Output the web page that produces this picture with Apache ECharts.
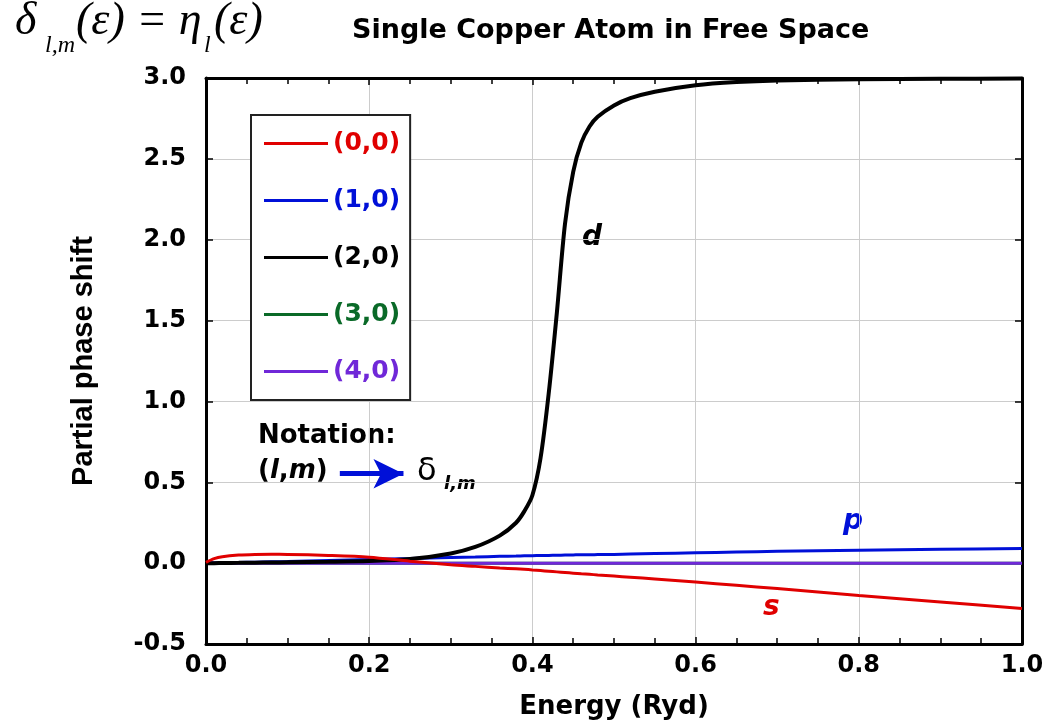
<!DOCTYPE html>
<html>
<head>
<meta charset="utf-8">
<script src="https://cdn.jsdelivr.net/npm/echarts@6/dist/echarts.min.js"></script>
<style>
  html, body { margin: 0; padding: 0; background: #fff; }
  #chart { width: 1048px; height: 727px; }
</style>
</head>
<body>
<div id="chart"></div>
<script>
// energy grid (Ryd), shared by every curve
const energy = [0, 0.01, 0.02, 0.04, 0.06, 0.08, 0.1, 0.15, 0.2, 0.25, 0.3, 0.33, 0.36, 0.38, 0.39, 0.4,
  0.41, 0.42, 0.43, 0.44, 0.45, 0.46, 0.47, 0.48, 0.5, 0.52, 0.55, 0.6, 0.65, 0.7, 0.8, 0.9, 1.0];

// partial phase shifts
const shiftS = [0.005, 0.028, 0.04, 0.05, 0.054, 0.055, 0.054, 0.048, 0.037, 0.012, -0.01, -0.02, -0.03, -0.035, -0.038, -0.042,
  -0.046, -0.05, -0.054, -0.058, -0.062, -0.066, -0.069, -0.073, -0.08, -0.087, -0.098, -0.117, -0.137, -0.157, -0.2, -0.24, -0.28];
const shiftP = [0, 0.001, 0.002, 0.004, 0.006, 0.008, 0.01, 0.016, 0.022, 0.028, 0.035, 0.038, 0.042, 0.044, 0.045, 0.046,
  0.047, 0.048, 0.049, 0.05, 0.051, 0.052, 0.052, 0.053, 0.054, 0.056, 0.059, 0.064, 0.069, 0.073, 0.08, 0.086, 0.09];
const shiftD = [0, 0, 0.001, 0.002, 0.003, 0.004, 0.005, 0.008, 0.013, 0.025, 0.06, 0.1, 0.17, 0.25, 0.32, 0.42,
  0.65, 1.05, 1.55, 2.1, 2.42, 2.6, 2.7, 2.76, 2.83, 2.875, 2.915, 2.955, 2.975, 2.985, 2.992, 2.995, 2.997];
const shiftF = [0, 0, 0, 0, 0, 0, 0, 0, 0, 0, 0, 0, 0, 0, 0, 0,
  0, 0, 0, 0, 0, 0, 0, 0, 0, 0, 0, 0, 0, 0, 0, 0, 0];
const shiftG = [0, 0, 0, 0, 0, 0, 0, 0, 0, 0, 0, 0, 0, 0, 0, 0,
  0, 0, 0, 0, 0, 0, 0, 0, 0, 0, 0, 0, 0, 0, 0, 0, 0];

const legendNames = ['(0,0)', '(1,0)', '(2,0)', '(3,0)', '(4,0)'];
const colors = ['#e00000', '#0010d8', '#000000', '#0a6a28', '#7028d8'];
const xTicks = { min: 0, max: 1, step: 0.2 };
const yTicks = { min: -0.5, max: 3, step: 0.5 };

// notation arrow, in data units
const arrowFrom = [0.164, 0.553];
const arrowTo = [0.242, 0.553];

const pairs = ys => energy.map((x, i) => [x, ys[i]]);

const chart = echarts.init(document.getElementById('chart'));
const FONT = 'DejaVu Sans';
const SERIF = '"Liberation Serif"';

function curve(idx, ys, width, extra) {
  return Object.assign({
    name: legendNames[idx],
    type: 'line',
    data: pairs(ys),
    showSymbol: false,
    smooth: 0.3,
    color: colors[idx],
    lineStyle: { color: colors[idx], width: width },
    z: 3,
  }, extra || {});
}

// frame axes: top and right copies carry only line and ticks
function frameX(position, main) {
  return {
    type: 'value', position: position,
    min: xTicks.min, max: xTicks.max, interval: xTicks.step,
    axisLine: { onZero: false, lineStyle: { color: '#000', width: 3 } },
    axisTick: { show: true, inside: true, length: 7, lineStyle: { color: '#000', width: 1.5 } },
    minorTick: { show: true, splitNumber: 4, length: 6, lineStyle: { color: '#000', width: 1.5 } },
    splitLine: { show: main, lineStyle: { color: '#cccccc', width: 1 } },
    axisLabel: {
      show: main,
      color: '#000', fontFamily: FONT, fontWeight: 'bold', fontSize: 24, margin: 10,
      formatter: v => v.toFixed(1),
    },
  };
}

function frameY(position, main) {
  return {
    type: 'value', position: position,
    min: yTicks.min, max: yTicks.max, interval: yTicks.step,
    axisLine: { show: true, onZero: false, lineStyle: { color: '#000', width: 3 } },
    axisTick: { show: true, inside: true, length: 7, lineStyle: { color: '#000', width: 1.5 } },
    splitLine: { show: main, lineStyle: { color: '#cccccc', width: 1 } },
    axisLabel: {
      show: main,
      color: '#000', fontFamily: FONT, fontWeight: 'bold', fontSize: 24, margin: 20,
      formatter: v => v.toFixed(1),
    },
  };
}

const option = {
  backgroundColor: '#ffffff',
  animation: false,
  grid: { left: 206, top: 78, right: 26, bottom: 83 },
  legend: {
    left: 251,
    top: 115,
    orient: 'vertical',
    padding: [16, 10, 16, 13],
    borderColor: '#222',
    borderWidth: 2,
    backgroundColor: '#fff',
    itemWidth: 64,
    itemHeight: 3,
    itemGap: 32,
    itemTextGap: 6,
    icon: 'rect',
    selectedMode: false,
    data: legendNames.map((n, i) => ({
      name: n,
      textStyle: { color: colors[i] },
    })),
    textStyle: { fontFamily: FONT, fontWeight: 'bold', fontSize: 25, lineHeight: 22 },
  },
  xAxis: [
    Object.assign(frameX('bottom', true), {
      name: 'Energy (Ryd)',
      nameLocation: 'middle',
      nameGap: 50,
      nameTextStyle: { color: '#000', fontFamily: FONT, fontWeight: 'bold', fontSize: 26 },
    }),
    frameX('top', false),
  ],
  yAxis: [
    Object.assign(frameY('left', true), {
      name: 'Partial phase shift',
      nameLocation: 'middle',
      nameGap: 108,
      nameTextStyle: { color: '#000', fontFamily: 'Liberation Sans', fontWeight: 'bold', fontSize: 29 },
    }),
    frameY('right', false),
  ],
  series: [
    curve(3, shiftF, 3),
    curve(4, shiftG, 3),
    curve(1, shiftP, 3, {
      markLine: {
        silent: true,
        symbol: ['none', 'arrow'],
        symbolSize: [22, 30],
        label: { show: false },
        lineStyle: { color: '#0010d8', width: 5, type: 'solid' },
        data: [[{ coord: arrowFrom }, { coord: arrowTo }]],
      },
    }),
    curve(2, shiftD, 4),
    curve(0, shiftS, 3),
  ],
  graphic: [
    // formula in the top left corner
    { type: 'text', left: 15, top: -1, style: { text: 'δ', font: 'italic 46px ' + SERIF, fill: '#000' } },
    { type: 'text', left: 45, top: 34, style: { text: 'l,m', font: 'italic 24px ' + SERIF, fill: '#000' } },
    { type: 'text', left: 76, top: -1, style: { text: '(ε) = η', font: 'italic 46px ' + SERIF, fill: '#000' } },
    { type: 'text', left: 204, top: 34, style: { text: 'l', font: 'italic 24px ' + SERIF, fill: '#000' } },
    { type: 'text', left: 214, top: -1, style: { text: '(ε)', font: 'italic 46px ' + SERIF, fill: '#000' } },
    // title
    { type: 'text', left: 352, top: 17, style: { text: 'Single Copper Atom in Free Space', font: 'bold 27px "DejaVu Sans"', fill: '#000' } },
    // notation
    { type: 'text', left: 258, top: 423, style: { text: 'Notation:', font: 'bold 26px "DejaVu Sans"', fill: '#000' } },
    { type: 'text', left: 258, top: 458, style: {
      text: '({i|l},{i|m})',
      font: 'bold 26px "DejaVu Sans"', fill: '#000',
      rich: { i: { fontStyle: 'italic', fontWeight: 'bold', fontSize: 26, fontFamily: FONT } },
    } },
    { type: 'text', left: 417, top: 456, style: { text: 'δ', font: '32px "DejaVu Sans"', fill: '#000' } },
    { type: 'text', left: 444, top: 475, style: { text: 'l,m', font: 'italic bold 18px "DejaVu Sans"', fill: '#000' } },
    // curve labels
    { type: 'text', left: 582, top: 224, style: { text: 'd', font: 'italic bold 28px "DejaVu Sans"', fill: '#000' } },
    { type: 'text', left: 843, top: 508, style: { text: 'p', font: 'italic bold 28px "DejaVu Sans"', fill: '#0010d8' } },
    { type: 'text', left: 763, top: 594, style: { text: 's', font: 'italic bold 28px "DejaVu Sans"', fill: '#e00000' } },
  ],
};

chart.setOption(option);
</script>
</body>
</html>
